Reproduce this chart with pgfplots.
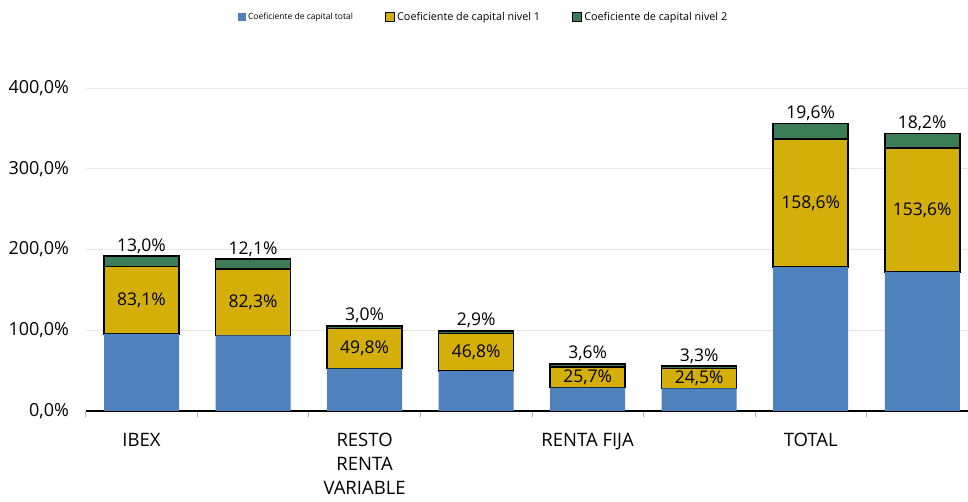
\documentclass[border=0pt]{standalone}
\usepackage{pgfplots}
\usepackage{pgfplotstable}
\pgfplotsset{compat=1.18}
\usepackage{fontspec}
\setmainfont{Open Sans}
\definecolor{barblue}{RGB}{79,129,189}
\definecolor{barylw}{RGB}{212,175,9}
\definecolor{bargrn}{RGB}{60,124,86}
\definecolor{gridc}{RGB}{230,230,230}
\pgfplotstableread{
x blue yel grn
0 95.6 83.1 13.0
1 93.8 82.3 12.1
2 52.5 49.8 3.0
3 49.4 46.8 2.9
4 28.9 25.7 3.6
5 27.9 24.5 3.3
6 178.1 158.6 19.6
7 172.1 153.6 18.2
}\data
\begin{document}
\begin{tikzpicture}
\path[use as bounding box] (0,0) rectangle (968pt,502pt);
\begin{axis}[
  at={(85.75pt,91pt)}, anchor=south west,
  scale only axis, width=882.25pt, height=323pt,
  ybar stacked, bar width=75pt,
  xmin=-0.5, xmax=7.41, ymin=0, ymax=400,
  axis x line*=bottom, axis y line*=left,
  x axis line style={black, line width=1.2pt, -},
  y axis line style={draw=none},
  ytick={0,100,200,300,400},
  ymajorgrids, grid style={draw=gridc, line width=0.8pt},
  y tick style={draw=none},
  /pgf/number format/assume math mode=true,
  yticklabel={\pgfmathprintnumber[fixed,fixed zerofill,precision=1,use comma]{\tick}\%},
  yticklabel style={font=\fontsize{18}{21}\selectfont, xshift=-9pt},
  xtick={0,...,7},
  xticklabels={IBEX,,{RESTO\\RENTA\\VARIABLE},,RENTA FIJA,,TOTAL,},
  xticklabel style={font=\fontsize{18.5}{24}\selectfont, align=center, anchor=north, yshift=-14pt},
  major x tick style={draw=none},
  minor xtick={-0.5,0.5,...,6.5},
  minor x tick style={draw=gray!60, line width=0.8pt},
  minor tick length=6pt,
  tick align=outside,
  legend columns=3,
  legend style={at={(0.451,1.2198)}, anchor=center, draw=none, fill=none,
    /tikz/every even column/.append style={column sep=30pt},
    font=\fontsize{10.8}{13}\selectfont},
  legend cell align=left,
]
\addplot[fill=barblue, draw=none,
  legend image code/.code={\fill[barblue] (0pt,-4pt) rectangle (8pt,4pt);}]
  table[x=x,y=blue]{\data};
\addlegendentry{{\fontsize{8.5}{10}\selectfont Coeficiente de capital total}}
\addplot[fill=barylw, draw=black, line width=1.5pt,
  legend image code/.code={\draw[fill=barylw, draw=black, line width=1.2pt] (0pt,-4.5pt) rectangle (9pt,4.5pt);},
  nodes near coords={\pgfmathprintnumber[fixed,fixed zerofill,precision=1,use comma]{\pgfplotspointmeta}\%},
  every node near coord/.style={font=\fontsize{17.5}{20}\selectfont, anchor=center}]
  table[x=x,y=yel]{\data};
\addlegendentry{Coeficiente de capital nivel 1}
\addplot[fill=bargrn, draw=black, line width=1.5pt,
  legend image code/.code={\draw[fill=bargrn, draw=black, line width=1.2pt] (0pt,-4.5pt) rectangle (9pt,4.5pt);},
  visualization depends on={\thisrow{grn} \as \gv},
  nodes near coords={\pgfmathprintnumber[fixed,fixed zerofill,precision=1,use comma]{\pgfplotspointmeta}\%},
  every node near coord/.style={font=\fontsize{17.5}{20}\selectfont, anchor=south, inner sep=1pt, yshift={\gv*0.40375+1}}]
  table[x=x,y=grn]{\data};
\addlegendentry{Coeficiente de capital nivel 2}
\end{axis}
\end{tikzpicture}
\end{document}
